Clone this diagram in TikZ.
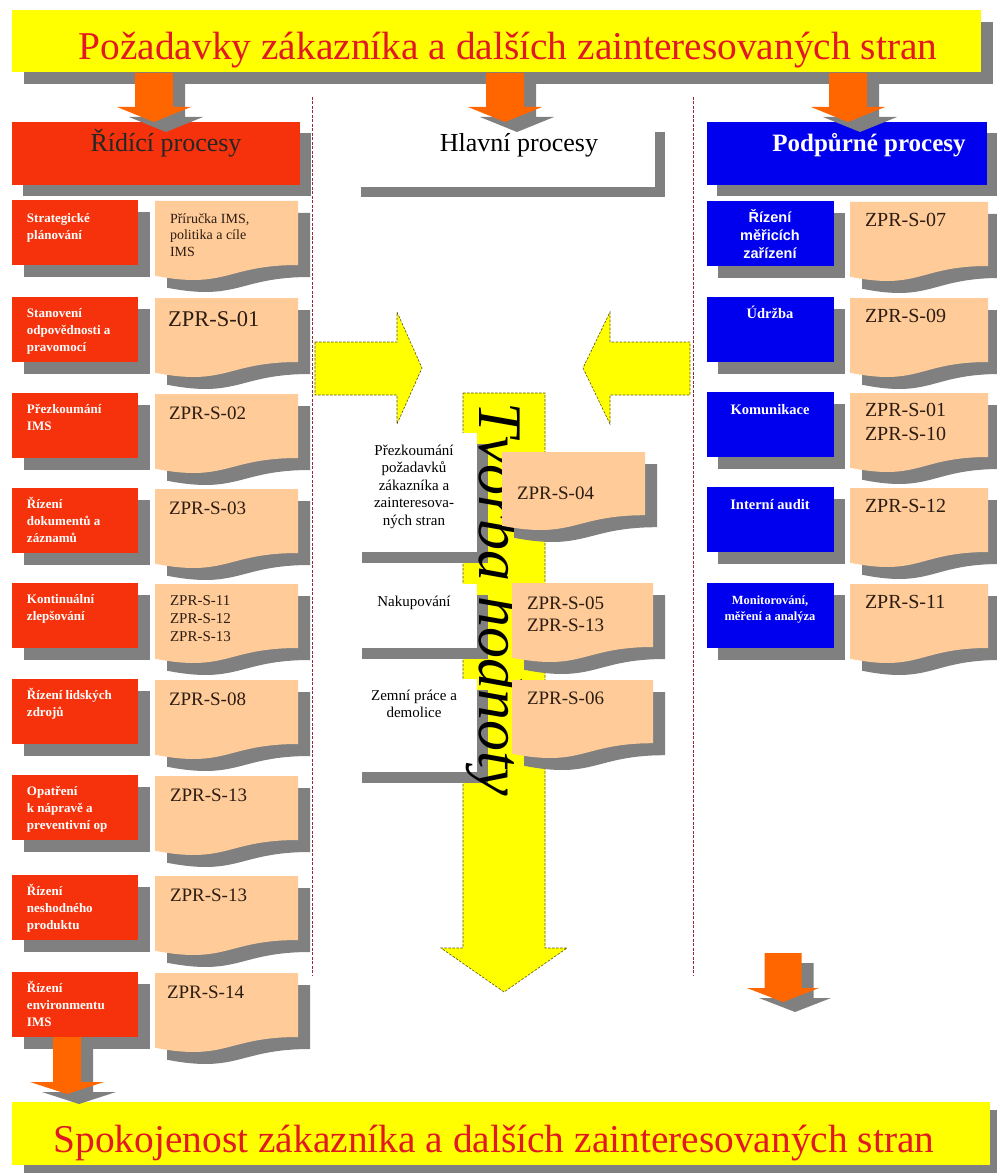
\documentclass[tikz,border=0pt]{standalone}
\usepackage{fontspec}
\setmainfont{Liberation Serif}
\newfontfamily\labelsans{Liberation Sans}
\usetikzlibrary{calc}

\definecolor{shgray}{RGB}{128,128,128}
\definecolor{peachc}{RGB}{255,204,153}
\definecolor{ctrlred}{RGB}{245,50,12}
\definecolor{suppblue}{RGB}{0,0,238}
\definecolor{arroworange}{RGB}{255,102,0}
\definecolor{bannerred}{RGB}{225,25,35}
\definecolor{sepred}{RGB}{150,40,60}
\definecolor{doctext}{RGB}{45,28,18}
\definecolor{flowyellow}{RGB}{255,255,0}
\definecolor{flowedge}{RGB}{90,80,20}

\newcommand\fs[2]{\fontsize{#1}{#2}\selectfont}

% rectangle with a flat grey drop shadow: name, x, y, w, h, dx, dy, fill
\newcommand\shadedbox[8]{%
  \fill[shgray] ({#2+#6},{#3+#7}) rectangle ({#2+#4+#6},{#3+#5+#7});
  \node[fill=#8, anchor=north west, minimum width=#4pt, minimum height=#5pt] (#1) at (#2,#3) {};
}

% flowchart "document" shape with shadow: name, x, y, w, h
\newcommand\docshape[5]{%
  \foreach \dx/\dy/\col in {12/12/shgray, 0/0/peachc} {
    \fill[\col, shift={(\dx,\dy)}] (#2,#3) -- ({#2+#4},#3) -- ({#2+#4},{#3+0.8*#5})
      .. controls ({#2+0.5*#4},{#3+0.8*#5}) and ({#2+0.5*#4},{#3+1.108*#5}) .. (#2,{#3+0.934*#5}) -- cycle;
  }
  \coordinate (#1) at (#2,#3);
}

% downward block arrow with shadow: name, cx, ytop, yhead, ytip, shaft half width, head half width
\newcommand\droparrow[7]{%
  \foreach \dx/\dy/\col in {12/10/shgray, 0/0/arroworange} {
    \fill[\col, shift={(\dx,\dy)}] ({#2-#6},#3) -- ({#2+#6},#3) -- ({#2+#6},#4) -- ({#2+#7},#4)
      -- (#2,#5) -- ({#2-#7},#4) -- ({#2-#6},#4) -- cycle;
  }
  \coordinate (#1) at (#2,#5);
}

\tikzset{
  every node/.style={inner sep=0pt, outer sep=0pt},
  ctrllbl/.style={anchor=north west, align=left, text=white, font=\bfseries\fs{13}{17}},
  supplbl/.style={align=center, text=white, font=\bfseries\fs{14.5}{16}},
  mainlbl/.style={align=center, text=black, font=\fs{15}{17.5}},
  doclbl/.style={align=left, text=doctext, font=\fs{19}{24}},
  bannerlbl/.style={anchor=base, text=bannerred, font=\fs{39.4}{44}},
  flowarrow/.style={fill=flowyellow, draw=flowedge, line width=0.6pt, dash pattern=on 2.5pt off 1.5pt},
  sepline/.style={draw=sepred, line width=0.7pt, dash pattern=on 3pt off 1.5pt},
}

\begin{document}
\begin{tikzpicture}[x=1pt, y=-1pt]
\useasboundingbox (0,0) rectangle (996,1174);
\fill[white] (0,0) rectangle (996,1174);

% ---------- top banner ----------
\shadedbox{topbanner}{12}{10}{969}{62}{12}{12}{flowyellow}
\node[bannerlbl] (topbannertext) at (508,60) {Požadavky zákazníka a dalších zainteresovaných stran};

% ---------- column headers ----------
\shadedbox{ctrlhead}{12}{122}{288}{63}{11}{11}{ctrlred}
\node[anchor=base, font=\fs{26}{30}, text=black!85] (ctrlheadtext) at (166,152) {Řídící procesy};
\shadedbox{mainhead}{351}{122}{304}{65}{10}{10}{white}
\node[anchor=base, font=\fs{26}{30}, text=black] (mainheadtext) at (519,152) {Hlavní procesy};
\shadedbox{supphead}{707}{122}{280}{63}{10}{11}{suppblue}
\node[anchor=base, font=\bfseries\fs{25}{30}, text=white] (suppheadtext) at (869,152) {Podpůrné procesy};

% ---------- arrows from the top banner ----------
\droparrow{downA}{154}{73}{107}{122}{19}{37}
\droparrow{downB}{505}{73}{107}{122}{19}{37}
\droparrow{downC}{848}{73}{107}{122}{19}{37}

% ---------- column separators ----------
\coordinate (sepAtop) at (312,97);
\coordinate (sepAbot) at (312,975);
\coordinate (sepBtop) at (693,97);
\coordinate (sepBbot) at (693,975);
\draw[sepline] (sepAtop) -- (sepAbot);
\draw[sepline] (sepBtop) -- (sepBbot);

% ---------- control processes ----------
\foreach \i/\T/\d/\rtxt in {
  1/200/11/{Strategické\\plánování},
  2/297/9/{Stanovení\\odpovědnosti a\\pravomocí},
  3/393/9/{Přezkoumání\\IMS},
  4/488/9/{Řízení\\dokumentů a\\záznamů},
  5/583/9/{Kontinuální\\zlepšování},
  6/679/9/{Řízení lidských\\zdrojů},
  7/775/9/{Opatření\\k nápravě a\\preventivní op},
  8/875/9/{Řízení\\neshodného\\produktu},
  9/972/9/{Řízení\\environmentu\\IMS}} {
  \shadedbox{ctrl\i}{12}{\T}{126}{65}{12}{12}{ctrlred}
  \node[ctrllbl] (ctrltext\i) at (27,\T+\d) {\strut\rtxt};
  \docshape{ctrldoc\i}{155}{\T+1}{143}{80}
}
\node[doclbl, anchor=north west, font=\fs{14}{16.5}] (ctrlref1) at (170,211.5) {\strut Příručka IMS,\\politika a cíle\\IMS};
\node[doclbl, anchor=base west, font=\fs{22.5}{26}] (ctrlref2) at (168,326) {ZPR-S-01};
\node[doclbl, anchor=base west] (ctrlref3) at (169,419) {ZPR-S-02};
\node[doclbl, anchor=base west] (ctrlref4) at (169,514) {ZPR-S-03};
\node[doclbl, anchor=north west, font=\fs{15}{18}] (ctrlref5) at (170,592.4) {\strut ZPR-S-11\\ZPR-S-12\\ZPR-S-13};
\node[doclbl, anchor=base west] (ctrlref6) at (169,705) {ZPR-S-08};
\node[doclbl, anchor=base west] (ctrlref7) at (170,801) {ZPR-S-13};
\node[doclbl, anchor=base west] (ctrlref8) at (170,901) {ZPR-S-13};
\node[doclbl, anchor=base west] (ctrlref9) at (167,998) {ZPR-S-14};

% ---------- support processes ----------
\foreach \i/\T in {1/201, 2/297, 3/392, 4/487, 5/583} {
  \shadedbox{supp\i}{707}{\T}{127}{65}{11}{12}{suppblue}
  \docshape{suppdoc\i}{850}{\T+1}{138}{80}
}
\node[supplbl, anchor=north, font=\labelsans\bfseries\fs{14.5}{18}] (supptext1) at (770,209.4) {\strut Řízení\\měřicích\\zařízení};
\node[supplbl, anchor=base] (supptext2) at (770,318) {Údržba};
\node[supplbl, anchor=base] (supptext3) at (770,414) {Komunikace};
\node[supplbl, anchor=base] (supptext4) at (770,509) {Interní audit};
\node[supplbl, anchor=north, font=\bfseries\fs{12.5}{16}] (supptext5) at (770,592.8) {\strut Monitorování,\\měření a analýza};
\node[doclbl, anchor=base west, font=\fs{20}{24}] (suppref1) at (865,226.5) {ZPR-S-07};
\node[doclbl, anchor=base west, font=\fs{20}{24}] (suppref2) at (865,322.5) {ZPR-S-09};
\node[doclbl, anchor=north west, font=\fs{20}{24}] (suppref3) at (865,399.7) {\strut ZPR-S-01\\ZPR-S-10};
\node[doclbl, anchor=base west, font=\fs{20}{24}] (suppref4) at (865,512.5) {ZPR-S-12};
\node[doclbl, anchor=base west, font=\fs{20}{24}] (suppref5) at (865,608.5) {ZPR-S-11};

% ---------- main processes: value stream ----------
\fill[flowarrow] (315,342) -- (397,342) -- (397,312) -- (422,368) -- (397,424) -- (397,395) -- (315,395) -- cycle;
\fill[flowarrow] (690,342) -- (610,342) -- (610,312) -- (583,368) -- (610,424) -- (610,395) -- (690,395) -- cycle;
\fill[flowarrow] (463,393) -- (545,393) -- (545,948) -- (567,948) -- (504,992) -- (441,948) -- (463,948) -- cycle;

\shadedbox{main1}{351}{433}{126}{119}{11}{11}{white}
\shadedbox{main2}{351}{584}{126}{64}{11}{11}{white}
\shadedbox{main3}{351}{679}{126}{93}{11}{11}{white}

\node[rotate=-90, anchor=base west, font=\itshape\fs{62}{70}] (flowtext) at (479,402) {Tvorba hodnoty};

\node[mainlbl, anchor=north] (maintext1) at (414,442.75) {\strut Přezkoumání\\požadavků\\zákazníka a\\zainteresova-\\ných stran};
\node[mainlbl, anchor=base] (maintext2) at (414,606) {Nakupování};
\node[mainlbl, anchor=north, font=\fs{15}{17}] (maintext3) at (414,688.1) {\strut Zemní práce a\\demolice};

\docshape{maindoc1}{502}{452}{143}{79}
\docshape{maindoc2}{512}{583}{141}{80}
\docshape{maindoc3}{512}{680}{141}{79}
\node[doclbl, anchor=base west] (mainref1) at (517,499.5) {ZPR-S-04};
\node[doclbl, anchor=north west, font=\fs{19}{22}] (mainref2) at (527,594.1) {\strut ZPR-S-05\\ZPR-S-13};
\node[doclbl, anchor=base west] (mainref3) at (527,704.5) {ZPR-S-06};

% ---------- bottom banner ----------
\shadedbox{botbanner}{12}{1102}{978}{63}{12}{8}{flowyellow}
\node[bannerlbl] (botbannertext) at (494,1152) {Spokojenost zákazníka a dalších zainteresovaných stran};

\droparrow{downD}{67}{1037}{1082}{1094}{14}{37}
\droparrow{downE}{783}{953}{988}{1002}{18.5}{36}
\end{tikzpicture}
\end{document}
